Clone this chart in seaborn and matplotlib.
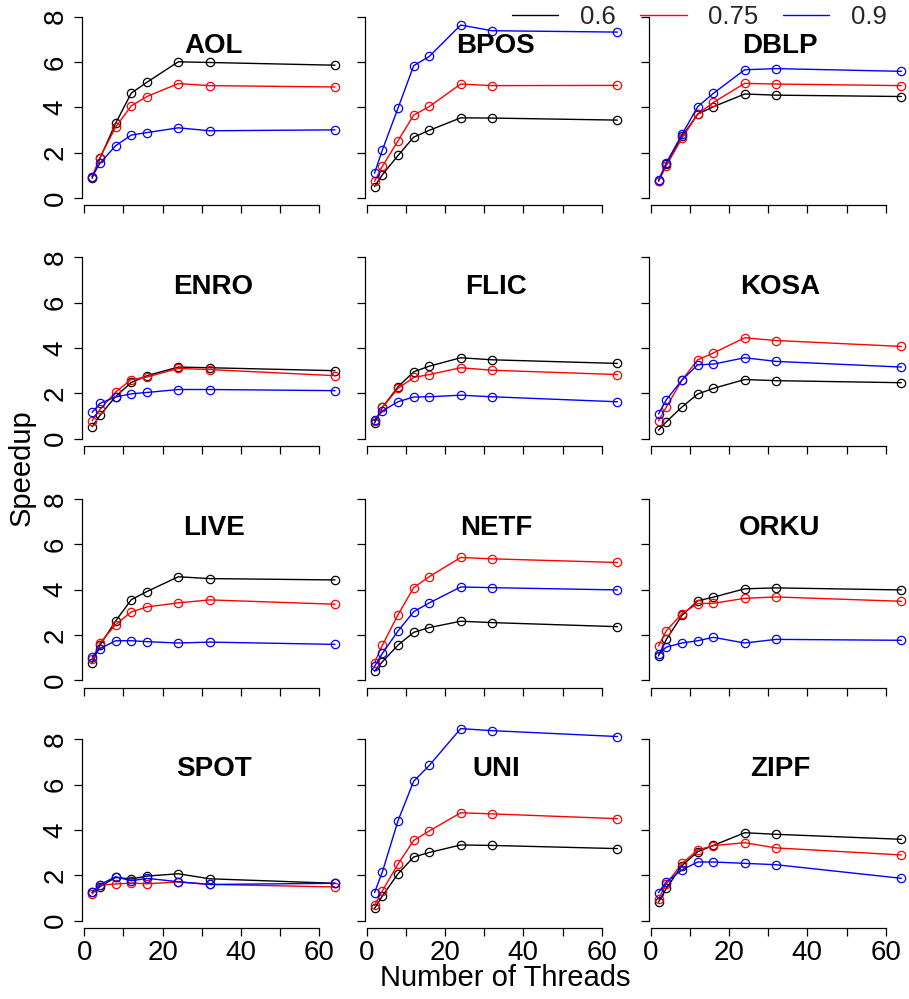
import matplotlib
matplotlib.use("Agg")
import matplotlib.pyplot as plt
from matplotlib.lines import Line2D
import pandas as pd
import seaborn as sns

# ---------------- data ----------------
threads = [2, 4, 8, 12, 16, 24, 32, 64]
levels = ["0.6", "0.75", "0.9"]
colors = ["black", "red", "blue"]
datasets = ["AOL", "BPOS", "DBLP", "ENRO", "FLIC", "KOSA",
            "LIVE", "NETF", "ORKU", "SPOT", "UNI", "ZIPF"]

AOL_06 = [0.88, 1.75, 3.30, 4.63, 5.11, 6.01, 5.98, 5.86]
AOL_075 = [0.95, 1.79, 3.13, 4.07, 4.48, 5.05, 4.96, 4.90]
AOL_09 = [0.95, 1.54, 2.31, 2.78, 2.89, 3.10, 2.97, 3.01]

BPOS_06 = [0.51, 1.03, 1.88, 2.69, 2.99, 3.54, 3.53, 3.44]
BPOS_075 = [0.74, 1.40, 2.53, 3.66, 4.04, 5.03, 4.96, 4.97]
BPOS_09 = [1.10, 2.12, 3.97, 5.84, 6.25, 7.63, 7.38, 7.32]

DBLP_06 = [0.76, 1.51, 2.72, 3.70, 4.03, 4.59, 4.54, 4.48]
DBLP_075 = [0.74, 1.43, 2.65, 3.70, 4.22, 5.06, 5.03, 4.96]
DBLP_09 = [0.79, 1.56, 2.81, 4.03, 4.62, 5.66, 5.71, 5.59]

ENRO_06 = [0.53, 1.03, 1.86, 2.48, 2.78, 3.16, 3.13, 3.00]
ENRO_075 = [0.79, 1.29, 2.06, 2.61, 2.72, 3.10, 3.05, 2.78]
ENRO_09 = [1.16, 1.56, 1.84, 1.98, 2.04, 2.17, 2.17, 2.12]

FLIC_06 = [0.69, 1.38, 2.29, 2.95, 3.20, 3.57, 3.48, 3.32]
FLIC_075 = [0.79, 1.38, 2.22, 2.70, 2.83, 3.13, 3.02, 2.83]
FLIC_09 = [0.81, 1.23, 1.63, 1.84, 1.85, 1.92, 1.85, 1.63]

KOSA_06 = [0.38, 0.75, 1.40, 1.97, 2.22, 2.61, 2.56, 2.47]
KOSA_075 = [0.79, 1.40, 2.59, 3.48, 3.78, 4.45, 4.33, 4.07]
KOSA_09 = [1.09, 1.72, 2.59, 3.26, 3.29, 3.57, 3.41, 3.16]

LIVE_06 = [0.78, 1.55, 2.62, 3.56, 3.92, 4.57, 4.49, 4.43]
LIVE_075 = [0.93, 1.65, 2.46, 3.02, 3.24, 3.42, 3.55, 3.36]
LIVE_09 = [1.03, 1.40, 1.75, 1.75, 1.71, 1.65, 1.69, 1.59]

NETF_06 = [0.41, 0.82, 1.56, 2.12, 2.33, 2.61, 2.55, 2.37]
NETF_075 = [0.78, 1.55, 2.90, 4.09, 4.58, 5.42, 5.36, 5.20]
NETF_09 = [0.62, 1.19, 2.18, 3.03, 3.42, 4.12, 4.09, 3.99]

ORKU_06 = [1.08, 1.81, 2.87, 3.51, 3.67, 4.04, 4.08, 3.99]
ORKU_075 = [1.52, 2.19, 2.95, 3.39, 3.40, 3.62, 3.68, 3.49]
ORKU_09 = [1.15, 1.47, 1.65, 1.75, 1.90, 1.65, 1.81, 1.77]

SPOT_06 = [1.25, 1.50, 1.91, 1.84, 1.97, 2.07, 1.85, 1.65]
SPOT_075 = [1.18, 1.57, 1.62, 1.66, 1.63, 1.71, 1.60, 1.49]
SPOT_09 = [1.25, 1.59, 1.94, 1.76, 1.87, 1.72, 1.60, 1.65]

UNI_06 = [0.54, 1.09, 2.07, 2.81, 3.01, 3.34, 3.32, 3.18]
UNI_075 = [0.68, 1.32, 2.50, 3.54, 3.96, 4.76, 4.71, 4.50]
UNI_09 = [1.24, 2.15, 4.41, 6.15, 6.85, 8.47, 8.38, 8.12]

ZIPF_06 = [0.82, 1.43, 2.43, 3.04, 3.32, 3.88, 3.81, 3.59]
ZIPF_075 = [0.96, 1.62, 2.53, 3.12, 3.31, 3.44, 3.21, 2.90]
ZIPF_09 = [1.24, 1.72, 2.24, 2.59, 2.59, 2.53, 2.47, 1.87]

series = {
    "AOL": [AOL_06, AOL_075, AOL_09],
    "BPOS": [BPOS_06, BPOS_075, BPOS_09],
    "DBLP": [DBLP_06, DBLP_075, DBLP_09],
    "ENRO": [ENRO_06, ENRO_075, ENRO_09],
    "FLIC": [FLIC_06, FLIC_075, FLIC_09],
    "KOSA": [KOSA_06, KOSA_075, KOSA_09],
    "LIVE": [LIVE_06, LIVE_075, LIVE_09],
    "NETF": [NETF_06, NETF_075, NETF_09],
    "ORKU": [ORKU_06, ORKU_075, ORKU_09],
    "SPOT": [SPOT_06, SPOT_075, SPOT_09],
    "UNI": [UNI_06, UNI_075, UNI_09],
    "ZIPF": [ZIPF_06, ZIPF_075, ZIPF_09],
}

x_ticks = [0, 10, 20, 30, 40, 50, 60]
x_ticklabels = ["0", "", "20", "", "40", "", "60"]
y_ticks = [0, 2, 4, 6, 8]
y_ticklabels = ["0", "2", "4", "6", "8"]

rows = []
for name in datasets:
    for lev, vals in zip(levels, series[name]):
        for t, v in zip(threads, vals):
            rows.append({"dataset": name, "level": lev, "threads": t, "speedup": v})
df = pd.DataFrame(rows)

# ---------------- style ----------------
sns.set_theme(style="white")
plt.rcParams["font.family"] = ["Liberation Sans", "DejaVu Sans"]
plt.rcParams["axes.linewidth"] = 0.9

W, H = 909, 999
fig = plt.figure(figsize=(W / 100, H / 100), dpi=100)

col_left = [82.4, 364.8, 648.8]
col_w = 262.3
row_top = [9.4, 250.0, 491.7, 732.0]
row_h = 196.0

palette = dict(zip(levels, colors))

for i, name in enumerate(datasets):
    r, c = divmod(i, 3)
    ax = fig.add_axes([col_left[c] / W, 1 - (row_top[r] + row_h) / H,
                       col_w / W, row_h / H])
    sub = df[df["dataset"] == name]
    sns.lineplot(data=sub, x="threads", y="speedup", hue="level",
                 hue_order=levels, palette=palette, marker="o",
                 mfc="none", mew=0.9, ms=6, lw=1.0, legend=False, ax=ax)
    for ln in ax.lines:
        ln.set_markeredgecolor(ln.get_color())
        ln.set_markerfacecolor("none")
        ln.set_clip_on(False)
    ax.set_xlim(-0.48, 66.48)
    ax.set_ylim(-0.32, 8.32)
    ax.set_xlabel("")
    ax.set_ylabel("")
    ax.set_facecolor("none")
    for s in ["top", "right"]:
        ax.spines[s].set_visible(False)
    for s in ["left", "bottom"]:
        ax.spines[s].set_color("black")
        ax.spines[s].set_linewidth(0.9)
    ax.spines["bottom"].set_bounds(0, 60)
    ax.spines["left"].set_bounds(0, 8)
    ax.set_xticks(x_ticks)
    ax.set_yticks(y_ticks)
    if r == 3:
        ax.set_xticklabels(x_ticklabels)
    else:
        ax.set_xticklabels([])
    if c == 0:
        ax.set_yticklabels(y_ticklabels)
        for lab in ax.get_yticklabels():
            lab.set_rotation(90)
            lab.set_va("center")
    else:
        ax.set_yticklabels([])
    ax.tick_params(axis="both", direction="out", length=6, width=0.9,
                   colors="black", labelsize=20, bottom=True, left=True)
    ax.tick_params(axis="x", pad=3)
    ax.tick_params(axis="y", pad=4)
    ax.text(0.5, 0.813, name, transform=ax.transAxes, ha="center",
            va="center", fontsize=20, fontweight="bold", color="black")

handles = [Line2D([], [], color=col, lw=1.0) for col in colors]
fig.legend(handles, levels, loc="center right",
           bbox_to_anchor=(887 / W, 1 - 17 / H), ncol=3, frameon=False,
           fontsize=18.5, handlelength=1.8, handletextpad=0.85,
           columnspacing=0.95, borderpad=0, borderaxespad=0)

fig.text(22 / W, 1 - 468 / H, "Speedup", rotation=90, ha="center",
         va="center", fontsize=21, color="black")
fig.text(505 / W, 1 - 978 / H, "Number of Threads", ha="center",
         va="center", fontsize=21, color="black")

fig.savefig("out.png", dpi=100, facecolor="white")
